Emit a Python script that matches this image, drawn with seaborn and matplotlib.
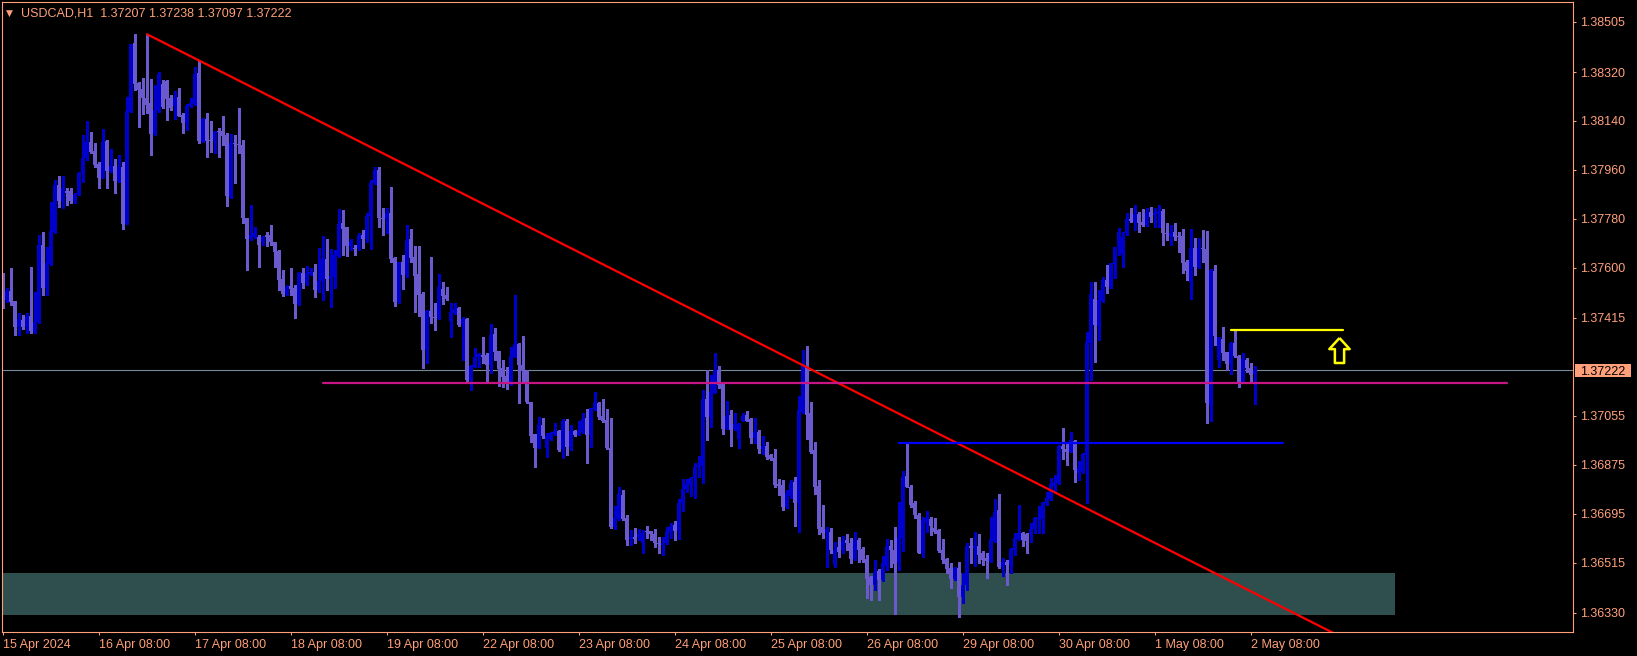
import matplotlib
matplotlib.use("Agg")
import numpy as np
import pandas as pd
import seaborn as sns
import matplotlib.pyplot as plt
from matplotlib.path import Path
from matplotlib.patches import Rectangle

FG = '#FFA07A'
BULL = '#0000CD'
BEAR = '#6A5ACD'

# hourly candles, USDCAD H1, 15 Apr 08:00 .. 2 May 09:00
opens = [
    1.37542, 1.37481, 1.37514, 1.37477, 1.37383, 1.37407, 1.37383, 1.37422, 1.37364, 1.37399,
    1.37683, 1.37524, 1.37613, 1.37732, 1.37906, 1.37846, 1.37882, 1.37882, 1.37846, 1.37870,
    1.37949, 1.38002, 1.38061, 1.38029, 1.37983, 1.37931, 1.38066, 1.37957, 1.37974, 1.37920,
    1.37970, 1.37762, 1.38174, 1.38426, 1.38281, 1.38257, 1.38223, 1.38205, 1.38092, 1.38178,
    1.38275, 1.38287, 1.38226, 1.38195, 1.38228, 1.38162, 1.38133, 1.38195, 1.38202, 1.38316,
    1.38067, 1.38146, 1.38070, 1.38067, 1.38102, 1.38102, 1.38088, 1.37861, 1.38059, 1.38055,
    1.38051, 1.37781, 1.37705, 1.37714, 1.37714, 1.37695, 1.37720, 1.37720, 1.37695, 1.37661,
    1.37558, 1.37502, 1.37532, 1.37524, 1.37465, 1.37581, 1.37542, 1.37578, 1.37584, 1.37518,
    1.37551, 1.37632, 1.37559, 1.37567, 1.37644, 1.37766, 1.37748, 1.37678, 1.37674, 1.37671,
    1.37721, 1.37706, 1.37790, 1.37911, 1.37960, 1.37784, 1.37779, 1.37800, 1.37635, 1.37475,
    1.37619, 1.37573, 1.37705, 1.37640, 1.37577, 1.37503, 1.37297, 1.37441, 1.37420, 1.37413,
    1.37523, 1.37500, 1.37404, 1.37432, 1.37453, 1.37393, 1.37411, 1.37187, 1.37236, 1.37273,
    1.37279, 1.37279, 1.37240, 1.37356, 1.37294, 1.37230, 1.37202, 1.37171, 1.37273, 1.37319,
    1.37242, 1.37221, 1.37107, 1.36988, 1.36938, 1.37021, 1.36938, 1.36970, 1.36987, 1.36999,
    1.36932, 1.37037, 1.36941, 1.36999, 1.36984, 1.36997, 1.37048, 1.36984, 1.37079, 1.37103,
    1.37054, 1.37040, 1.36938, 1.36647, 1.36674, 1.36763, 1.36678, 1.36600, 1.36610, 1.36608,
    1.36586, 1.36631, 1.36631, 1.36619, 1.36588, 1.36580, 1.36586, 1.36629, 1.36653, 1.36632,
    1.36733, 1.36785, 1.36800, 1.36825, 1.36865, 1.36870, 1.37117, 1.37052, 1.37140, 1.37224,
    1.37171, 1.37007, 1.37058, 1.37005, 1.36970, 1.37036, 1.37058, 1.37042, 1.36975, 1.36996,
    1.36933, 1.36942, 1.36911, 1.36901, 1.36804, 1.36800, 1.36721, 1.36760, 1.36813, 1.36735,
    1.37070, 1.37236, 1.37064, 1.36929, 1.36797, 1.36647, 1.36625, 1.36629, 1.36506, 1.36573,
    1.36561, 1.36596, 1.36588, 1.36527, 1.36598, 1.36565, 1.36527, 1.36463, 1.36432, 1.36484,
    1.36451, 1.36502, 1.36576, 1.36561, 1.36512, 1.36604, 1.36834, 1.36794, 1.36733, 1.36690,
    1.36551, 1.36665, 1.36674, 1.36641, 1.36635, 1.36561, 1.36527, 1.36493, 1.36453, 1.36493,
    1.36387, 1.36432, 1.36576, 1.36567, 1.36576, 1.36549, 1.36533, 1.36522, 1.36595, 1.36708,
    1.36497, 1.36518, 1.36506, 1.36561, 1.36601, 1.36622, 1.36619, 1.36620, 1.36637, 1.36675,
    1.36675, 1.36733, 1.36747, 1.36796, 1.36806, 1.36944, 1.36934, 1.36923, 1.36963, 1.36846,
    1.36849, 1.36911, 1.37322, 1.37485, 1.37385, 1.37479, 1.37555, 1.37528, 1.37614, 1.37675,
    1.37650, 1.37726, 1.37780, 1.37769, 1.37798, 1.37769, 1.37757, 1.37803, 1.37792, 1.37798,
    1.37809, 1.37726, 1.37717, 1.37730, 1.37717, 1.37717, 1.37622, 1.37549, 1.37671, 1.37601,
    1.37671, 1.37668, 1.37095, 1.37588, 1.37260, 1.37336, 1.37288, 1.37246, 1.37322, 1.37275,
    1.37177, 1.37260, 1.37230, 1.37207,
]
highs = [
    1.37579, 1.37524, 1.37597, 1.37477, 1.37432, 1.37426, 1.37432, 1.37601, 1.37511, 1.37722,
    1.37732, 1.37677, 1.37843, 1.37922, 1.37937, 1.37937, 1.37892, 1.37892, 1.37873, 1.37953,
    1.38088, 1.38140, 1.38098, 1.38057, 1.37990, 1.38110, 1.38070, 1.38037, 1.37999, 1.38014,
    1.37990, 1.38229, 1.38423, 1.38460, 1.38284, 1.38297, 1.38459, 1.38294, 1.38272, 1.38319,
    1.38291, 1.38291, 1.38235, 1.38250, 1.38260, 1.38168, 1.38203, 1.38226, 1.38337, 1.38364,
    1.38149, 1.38168, 1.38140, 1.38103, 1.38115, 1.38159, 1.38094, 1.38091, 1.38088, 1.38189,
    1.38070, 1.37781, 1.37830, 1.37751, 1.37722, 1.37716, 1.37732, 1.37757, 1.37695, 1.37664,
    1.37591, 1.37536, 1.37597, 1.37536, 1.37585, 1.37597, 1.37607, 1.37597, 1.37612, 1.37671,
    1.37717, 1.37705, 1.37668, 1.37665, 1.37815, 1.37813, 1.37751, 1.37705, 1.37684, 1.37727,
    1.37739, 1.37800, 1.37923, 1.37972, 1.37970, 1.37819, 1.37819, 1.37896, 1.37641, 1.37622,
    1.37647, 1.37757, 1.37741, 1.37680, 1.37680, 1.37510, 1.37444, 1.37641, 1.37471, 1.37576,
    1.37549, 1.37530, 1.37471, 1.37471, 1.37457, 1.37420, 1.37416, 1.37242, 1.37303, 1.37285,
    1.37346, 1.37285, 1.37393, 1.37377, 1.37294, 1.37260, 1.37236, 1.37307, 1.37500, 1.37322,
    1.37349, 1.37224, 1.37107, 1.36988, 1.37049, 1.37048, 1.36990, 1.36997, 1.37027, 1.37003,
    1.37042, 1.37042, 1.37021, 1.37003, 1.37037, 1.37064, 1.37079, 1.37085, 1.37144, 1.37107,
    1.37116, 1.37079, 1.37046, 1.36723, 1.36792, 1.36782, 1.36690, 1.36635, 1.36641, 1.36637,
    1.36635, 1.36650, 1.36631, 1.36638, 1.36610, 1.36608, 1.36647, 1.36659, 1.36669, 1.36748,
    1.36821, 1.36821, 1.36831, 1.36880, 1.36907, 1.37150, 1.37224, 1.37205, 1.37285, 1.37238,
    1.37175, 1.37110, 1.37077, 1.37064, 1.37027, 1.37064, 1.37074, 1.37046, 1.37046, 1.37003,
    1.36981, 1.36960, 1.36915, 1.36932, 1.36821, 1.36819, 1.36782, 1.36819, 1.36831, 1.37128,
    1.37297, 1.37310, 1.37107, 1.36960, 1.36819, 1.36727, 1.36647, 1.36641, 1.36592, 1.36610,
    1.36613, 1.36620, 1.36604, 1.36629, 1.36604, 1.36573, 1.36543, 1.36466, 1.36524, 1.36490,
    1.36539, 1.36600, 1.36598, 1.36647, 1.36739, 1.36850, 1.36954, 1.36800, 1.36743, 1.36699,
    1.36684, 1.36705, 1.36681, 1.36678, 1.36637, 1.36600, 1.36531, 1.36512, 1.36499, 1.36518,
    1.36477, 1.36585, 1.36604, 1.36628, 1.36620, 1.36557, 1.36549, 1.36681, 1.36747, 1.36767,
    1.36530, 1.36524, 1.36567, 1.36622, 1.36726, 1.36628, 1.36622, 1.36659, 1.36684, 1.36723,
    1.36739, 1.36776, 1.36825, 1.36837, 1.36947, 1.37011, 1.36960, 1.36996, 1.36966, 1.36890,
    1.36917, 1.37365, 1.37549, 1.37549, 1.37518, 1.37565, 1.37610, 1.37619, 1.37677, 1.37745,
    1.37733, 1.37800, 1.37819, 1.37831, 1.37803, 1.37815, 1.37819, 1.37825, 1.37819, 1.37831,
    1.37815, 1.37763, 1.37757, 1.37766, 1.37733, 1.37741, 1.37628, 1.37741, 1.37711, 1.37708,
    1.37739, 1.37736, 1.37594, 1.37610, 1.37346, 1.37383, 1.37291, 1.37328, 1.37371, 1.37279,
    1.37285, 1.37266, 1.37250, 1.37238,
]
lows = [
    1.37450, 1.37475, 1.37462, 1.37352, 1.37352, 1.37376, 1.37358, 1.37358, 1.37358, 1.37395,
    1.37499, 1.37499, 1.37610, 1.37726, 1.37824, 1.37818, 1.37830, 1.37837, 1.37837, 1.37867,
    1.37916, 1.37996, 1.38021, 1.37972, 1.37894, 1.37929, 1.37894, 1.37953, 1.37876, 1.37916,
    1.37742, 1.37759, 1.38172, 1.38254, 1.38119, 1.38164, 1.38168, 1.38014, 1.38088, 1.38174,
    1.38186, 1.38143, 1.38180, 1.38146, 1.38159, 1.38094, 1.38106, 1.38192, 1.38199, 1.38057,
    1.38064, 1.38008, 1.38027, 1.38023, 1.38008, 1.38051, 1.37828, 1.37857, 1.37913, 1.38021,
    1.37765, 1.37591, 1.37702, 1.37708, 1.37603, 1.37683, 1.37681, 1.37683, 1.37603, 1.37518,
    1.37497, 1.37499, 1.37499, 1.37416, 1.37462, 1.37524, 1.37538, 1.37573, 1.37493, 1.37511,
    1.37481, 1.37518, 1.37457, 1.37524, 1.37641, 1.37647, 1.37643, 1.37665, 1.37647, 1.37665,
    1.37671, 1.37696, 1.37669, 1.37908, 1.37751, 1.37721, 1.37727, 1.37622, 1.37459, 1.37471,
    1.37521, 1.37567, 1.37622, 1.37438, 1.37422, 1.37232, 1.37251, 1.37395, 1.37371, 1.37410,
    1.37467, 1.37481, 1.37346, 1.37430, 1.37387, 1.37260, 1.37177, 1.37148, 1.37233, 1.37236,
    1.37251, 1.37184, 1.37214, 1.37260, 1.37166, 1.37160, 1.37152, 1.37168, 1.37270, 1.37101,
    1.37175, 1.37103, 1.36960, 1.36865, 1.36935, 1.36972, 1.36902, 1.36966, 1.36984, 1.36927,
    1.36898, 1.36911, 1.36929, 1.36981, 1.36984, 1.36993, 1.36883, 1.36941, 1.37076, 1.37042,
    1.37033, 1.36932, 1.36641, 1.36637, 1.36671, 1.36671, 1.36580, 1.36580, 1.36586, 1.36596,
    1.36549, 1.36604, 1.36598, 1.36571, 1.36549, 1.36543, 1.36583, 1.36604, 1.36598, 1.36600,
    1.36705, 1.36776, 1.36758, 1.36754, 1.36831, 1.36807, 1.36966, 1.37015, 1.37138, 1.37156,
    1.36988, 1.37005, 1.36942, 1.37003, 1.36938, 1.37034, 1.37034, 1.36954, 1.36954, 1.36917,
    1.36915, 1.36896, 1.36892, 1.36792, 1.36764, 1.36708, 1.36715, 1.36751, 1.36650, 1.36629,
    1.37064, 1.36969, 1.36917, 1.36767, 1.36620, 1.36604, 1.36497, 1.36551, 1.36500, 1.36537,
    1.36551, 1.36561, 1.36512, 1.36524, 1.36518, 1.36518, 1.36383, 1.36377, 1.36414, 1.36377,
    1.36448, 1.36488, 1.36497, 1.36326, 1.36488, 1.36559, 1.36792, 1.36721, 1.36678, 1.36549,
    1.36534, 1.36629, 1.36616, 1.36623, 1.36555, 1.36512, 1.36478, 1.36420, 1.36450, 1.36314,
    1.36365, 1.36414, 1.36512, 1.36502, 1.36512, 1.36506, 1.36457, 1.36518, 1.36592, 1.36493,
    1.36465, 1.36432, 1.36475, 1.36542, 1.36598, 1.36576, 1.36551, 1.36592, 1.36622, 1.36622,
    1.36622, 1.36726, 1.36745, 1.36776, 1.36804, 1.36895, 1.36874, 1.36923, 1.36811, 1.36819,
    1.36846, 1.36733, 1.37187, 1.37254, 1.37334, 1.37475, 1.37508, 1.37524, 1.37561, 1.37647,
    1.37604, 1.37720, 1.37769, 1.37739, 1.37733, 1.37753, 1.37753, 1.37769, 1.37751, 1.37751,
    1.37684, 1.37702, 1.37684, 1.37702, 1.37659, 1.37579, 1.37555, 1.37484, 1.37573, 1.37598,
    1.37622, 1.37027, 1.37037, 1.37315, 1.37236, 1.37260, 1.37223, 1.37209, 1.37273, 1.37162,
    1.37174, 1.37217, 1.37174, 1.37097,
]
closes = [
    1.37484, 1.37514, 1.37472, 1.37383, 1.37410, 1.37383, 1.37419, 1.37368, 1.37399, 1.37683,
    1.37524, 1.37616, 1.37735, 1.37906, 1.37846, 1.37895, 1.37876, 1.37846, 1.37867, 1.37949,
    1.38002, 1.38061, 1.38027, 1.37978, 1.37931, 1.38061, 1.37957, 1.37974, 1.37920, 1.37972,
    1.37762, 1.38176, 1.38423, 1.38276, 1.38254, 1.38223, 1.38199, 1.38092, 1.38180, 1.38313,
    1.38192, 1.38221, 1.38189, 1.38223, 1.38159, 1.38133, 1.38195, 1.38205, 1.38313, 1.38067,
    1.38146, 1.38067, 1.38067, 1.38098, 1.38098, 1.38084, 1.37864, 1.38059, 1.38054, 1.38051,
    1.37781, 1.37705, 1.37720, 1.37726, 1.37683, 1.37713, 1.37713, 1.37695, 1.37659, 1.37554,
    1.37502, 1.37530, 1.37521, 1.37465, 1.37581, 1.37542, 1.37581, 1.37584, 1.37518, 1.37551,
    1.37632, 1.37559, 1.37570, 1.37647, 1.37761, 1.37743, 1.37678, 1.37698, 1.37668, 1.37721,
    1.37706, 1.37790, 1.37911, 1.37960, 1.37782, 1.37779, 1.37800, 1.37632, 1.37475, 1.37620,
    1.37573, 1.37702, 1.37635, 1.37570, 1.37500, 1.37297, 1.37441, 1.37417, 1.37413, 1.37527,
    1.37496, 1.37485, 1.37436, 1.37448, 1.37389, 1.37411, 1.37187, 1.37238, 1.37270, 1.37283,
    1.37273, 1.37240, 1.37352, 1.37291, 1.37227, 1.37197, 1.37171, 1.37275, 1.37319, 1.37242,
    1.37221, 1.37105, 1.36981, 1.36938, 1.37021, 1.36981, 1.36981, 1.36990, 1.36999, 1.36929,
    1.37036, 1.36941, 1.36999, 1.36984, 1.36999, 1.37043, 1.36984, 1.37083, 1.37101, 1.37052,
    1.37037, 1.36935, 1.36647, 1.36678, 1.36767, 1.36674, 1.36598, 1.36608, 1.36602, 1.36620,
    1.36625, 1.36627, 1.36619, 1.36586, 1.36582, 1.36588, 1.36631, 1.36650, 1.36631, 1.36733,
    1.36785, 1.36804, 1.36825, 1.36868, 1.36874, 1.37117, 1.37052, 1.37144, 1.37224, 1.37169,
    1.37007, 1.37054, 1.37003, 1.37025, 1.37025, 1.37054, 1.37036, 1.36975, 1.36997, 1.36933,
    1.36944, 1.36905, 1.36896, 1.36800, 1.36798, 1.36721, 1.36772, 1.36809, 1.36735, 1.37077,
    1.37238, 1.37058, 1.36921, 1.36794, 1.36638, 1.36625, 1.36638, 1.36561, 1.36561, 1.36555,
    1.36594, 1.36586, 1.36527, 1.36596, 1.36561, 1.36524, 1.36453, 1.36432, 1.36481, 1.36451,
    1.36512, 1.36576, 1.36561, 1.36510, 1.36608, 1.36831, 1.36794, 1.36727, 1.36688, 1.36551,
    1.36672, 1.36678, 1.36650, 1.36629, 1.36559, 1.36524, 1.36490, 1.36453, 1.36493, 1.36387,
    1.36434, 1.36576, 1.36567, 1.36576, 1.36542, 1.36526, 1.36522, 1.36600, 1.36702, 1.36499,
    1.36518, 1.36506, 1.36563, 1.36604, 1.36622, 1.36598, 1.36595, 1.36637, 1.36677, 1.36677,
    1.36736, 1.36751, 1.36804, 1.36806, 1.36944, 1.36931, 1.36923, 1.36966, 1.36855, 1.36864,
    1.36914, 1.37326, 1.37503, 1.37389, 1.37481, 1.37555, 1.37528, 1.37616, 1.37675, 1.37733,
    1.37714, 1.37778, 1.37773, 1.37798, 1.37766, 1.37757, 1.37800, 1.37788, 1.37800, 1.37806,
    1.37726, 1.37723, 1.37729, 1.37714, 1.37712, 1.37619, 1.37589, 1.37671, 1.37601, 1.37671,
    1.37668, 1.37101, 1.37592, 1.37349, 1.37344, 1.37285, 1.37246, 1.37322, 1.37275, 1.37178,
    1.37263, 1.37230, 1.37205, 1.37222,
]

date_ticks = [0, 24, 48, 72, 96, 120, 144, 168, 192, 216, 240, 264, 288, 312]
date_labels = ['15 Apr 2024', '16 Apr 08:00', '17 Apr 08:00', '18 Apr 08:00', '19 Apr 08:00',
               '22 Apr 08:00', '23 Apr 08:00', '24 Apr 08:00', '25 Apr 08:00', '26 Apr 08:00',
               '29 Apr 08:00', '30 Apr 08:00', '1 May 08:00', '2 May 08:00']
price_ticks = [1.38505, 1.38320, 1.38140, 1.37960, 1.37780, 1.37600, 1.37415,
               1.37055, 1.36875, 1.36695, 1.36515, 1.36330]

header = 'USDCAD,H1  1.37207 1.37238 1.37097 1.37222'
bid = 1.37222

# drawn objects
trend_a = (36, 1.38459)
trend_b = (332, 1.36260)
pink_from, pink_to, pink_price = 80, 376, 1.37174
blue_from, blue_to, blue_price = 224, 320, 1.36956
yellow_from, yellow_to, yellow_price = 307, 335, 1.37371
zone_from, zone_to, zone_top, zone_bottom = -20, 348, 1.36476, 1.36323
arrow_bar, arrow_price = 334, 1.37296

sns.set_theme(style='dark', rc={'axes.facecolor': 'black', 'figure.facecolor': 'black'})
plt.rcParams['font.family'] = ['Liberation Sans', 'DejaVu Sans']

W, H = 1637, 656
fig = plt.figure(figsize=(W / 100, H / 100), dpi=100)
fig.patch.set_facecolor('black')
ax = fig.add_axes([2 / W, 24 / H, 1571 / W, 630 / H])
ax.set_facecolor('black')

df = pd.DataFrame({'open': opens, 'high': highs, 'low': lows, 'close': closes})
df['bar'] = np.arange(len(df))
colors = np.where(df['close'] >= df['open'], BULL, BEAR)

ax.add_patch(Rectangle((zone_from, zone_bottom), zone_to - zone_from, zone_top - zone_bottom,
                       facecolor='#2F4F4F', edgecolor='none', zorder=1))
ax.axhline(bid, color='#778899', linewidth=0.8, zorder=1.5)

ax.vlines(df['bar'], df['low'], df['high'], colors=colors, linewidth=0.75,
          antialiased=False, zorder=2)
body_lo = df[['open', 'close']].min(axis=1)
body_h = (df['close'] - df['open']).abs().clip(lower=0.000037)
ax.bar(df['bar'], body_h, bottom=body_lo, width=0.8, color=colors, linewidth=0,
       antialiased=False, zorder=2)

# trend line as a ray from its first anchor
slope = (trend_b[1] - trend_a[1]) / (trend_b[0] - trend_a[0])
ray_end = 420
trend = pd.DataFrame({'bar': [trend_a[0], ray_end],
                      'price': [trend_a[1], trend_a[1] + slope * (ray_end - trend_a[0])]})
sns.lineplot(data=trend, x='bar', y='price', ax=ax, color='#FF0000', linewidth=1.6, zorder=4)

for x0, x1, p, c in [(pink_from, pink_to, pink_price, '#C71585'),
                     (blue_from, blue_to, blue_price, '#0000FF'),
                     (yellow_from, yellow_to, yellow_price, '#FFFF00')]:
    seg = pd.DataFrame({'bar': [x0, x1], 'price': [p, p]})
    sns.lineplot(data=seg, x='bar', y='price', ax=ax, color=c, linewidth=1.6, zorder=4)

arrow = Path([(0, 13.5), (11, 1.5), (5, 1.5), (5, -13.5), (-5, -13.5), (-5, 1.5),
              (-11, 1.5), (0, 13.5)])
ax.plot([arrow_bar], [arrow_price], marker=arrow, markersize=18, markerfacecolor='black',
        markeredgecolor='#FFFF00', markeredgewidth=1.8, linestyle='none', zorder=5)

ax.set_xlim(-0.25, 392.5)
ax.set_ylim(1.3625924, 1.3857764)
ax.set_xlabel('')
ax.set_ylabel('')
ax.grid(False)

for s in ax.spines.values():
    s.set_color(FG)
    s.set_linewidth(0.8)
    s.set_visible(True)

ax.yaxis.tick_right()
ax.set_yticks(price_ticks, [f'{v:.5f}' for v in price_ticks])
ax.set_xticks(date_ticks, date_labels)
for lab in ax.get_xticklabels():
    lab.set_horizontalalignment('left')
ax.tick_params(axis='both', direction='out', length=2.5, width=0.75, color=FG,
               labelcolor=FG, labelsize=9)
ax.tick_params(axis='y', pad=2.5, left=False, right=True)
ax.tick_params(axis='x', pad=2.2, bottom=True)

# current price box on the axis
box_h = 0.000493
ax.add_patch(Rectangle((1.00127, bid - box_h / 2), 0.03565, box_h,
                       transform=ax.get_yaxis_transform(), facecolor=FG,
                       edgecolor='none', clip_on=False, zorder=6))
ax.text(1.0045, bid, f'{bid:.5f}', transform=ax.get_yaxis_transform(), color='black',
        fontsize=9, va='center_baseline', ha='left', clip_on=False, zorder=7)

fig.text(21 / W, 1 - 16.7 / H, header, color=FG, fontsize=9, va='baseline', ha='left')
fig.text(5.5 / W, 1 - 16 / H, '\u25BC', color=FG, fontsize=6.5, va='baseline', ha='left',
         family='DejaVu Sans')

fig.savefig('out.png', dpi=100, facecolor='black')
